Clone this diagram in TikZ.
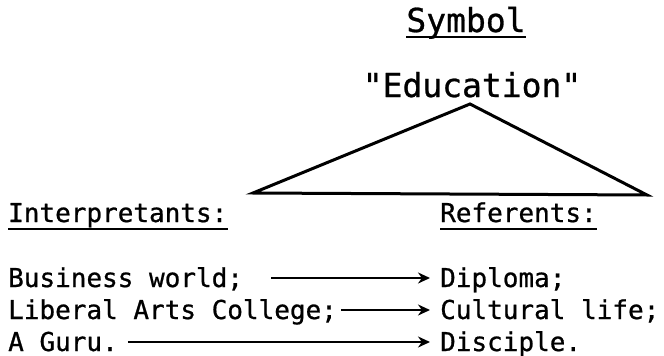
\documentclass[tikz,border=0pt]{standalone}
\usepackage{fontspec}
\newfontfamily\tw[FakeBold=0.8]{DejaVu Sans Mono}
\usetikzlibrary{arrows.meta}
\begin{document}
\begin{tikzpicture}[x=1pt,y=-1pt,
  big/.style={font=\tw\fontsize{33}{33}\selectfont, inner sep=0pt, text height=24pt, text depth=0pt},
  txt/.style={font=\tw\fontsize{26}{26}\selectfont, inner sep=0pt, anchor=base west, text height=18pt, text depth=0pt},
  uline/.style={line width=2.2pt},
  arr/.style={line width=2.8pt, -{Stealth[length=12pt,width=11pt]}},
  tri/.style={line width=3pt, line join=miter}]
\useasboundingbox (0,0) rectangle (664,356);
\node[big, anchor=base] (sym) at (466,32) {Symbol};
\draw[uline] ([yshift=-5pt]sym.base west) -- ([yshift=-5pt]sym.base east);
\node[big, anchor=base] (edu) at (472,97) {"Education"};
\coordinate (apex) at (470,104);
\coordinate (lc) at (253,193);
\coordinate (rc) at (647,195);
\draw[tri] (apex) -- (rc) -- (lc) -- cycle;
\node[txt] (int) at (8,222) {Interpretants:};
\draw[uline] ([yshift=-7pt]int.base west) -- ([yshift=-7pt]int.base east);
\node[txt] (ref) at (440,222) {Referents:};
\draw[uline] ([yshift=-7pt]ref.base west) -- ([yshift=-7pt]ref.base east);
\node[txt] (l1) at (8,287) {Business world;};
\node[txt] (l2) at (8,319) {Liberal Arts College;};
\node[txt] (l3) at (8,351) {A Guru.};
\node[txt] (r1) at (440,287) {Diploma;};
\node[txt] (r2) at (440,319) {Cultural life;};
\node[txt] (r3) at (440,351) {Disciple.};
\draw[arr] ([xshift=28pt]l1.east) -- ([xshift=-10pt]r1.west);
\draw[arr] ([xshift=4pt]l2.east) -- ([xshift=-10pt]r2.west);
\draw[arr] ([xshift=10pt]l3.east) -- ([xshift=-10pt]r3.west);
\end{tikzpicture}
\end{document}
